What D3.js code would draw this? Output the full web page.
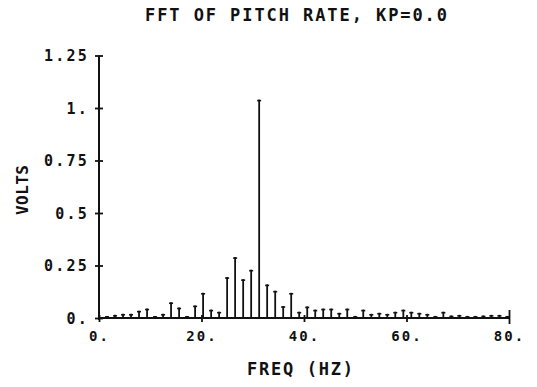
<!DOCTYPE html>
<html>
<head>
<meta charset="utf-8">
<script src="https://cdn.jsdelivr.net/npm/d3@7"></script>
<style>
    html, body { margin: 0; padding: 0; background: #fff; }
    svg { display: block; }
    text { font-family: "DejaVu Sans Mono", monospace; font-weight: bold; fill: #111; }
</style>
</head>
<body>
<div id="chart"></div>
<script>
    'use strict';

    // FFT bins (Hz) and amplitude (volts)
    var freqs = [1.56, 3.13, 4.69, 6.25, 7.81, 9.38, 10.94, 12.5, 14.06, 15.63,
        17.19, 18.75, 20.31, 21.88, 23.44, 25, 26.56, 28.13, 29.69, 31.25,
        32.81, 34.38, 35.94, 37.5, 39.06, 40.63, 42.19, 43.75, 45.31, 46.88,
        48.44, 50, 51.56, 53.13, 54.69, 56.25, 57.81, 59.38, 60.94, 62.5,
        64.06, 65.63, 67.19, 68.75, 70.31, 71.88, 73.44, 75, 76.56, 78.13, 79.69];
    var volts = [0.01, 0.015, 0.02, 0.02, 0.035, 0.045, 0.01, 0.02, 0.075, 0.05,
        0.01, 0.06, 0.12, 0.04, 0.03, 0.195, 0.29, 0.185, 0.23, 1.04,
        0.16, 0.13, 0.057, 0.12, 0.03, 0.055, 0.04, 0.045, 0.045, 0.025,
        0.045, 0.01, 0.04, 0.02, 0.025, 0.02, 0.03, 0.04, 0.03, 0.025,
        0.02, 0.01, 0.03, 0.012, 0.015, 0.01, 0.01, 0.012, 0.015, 0.015, 0.01];

    var xTicks = [0, 20, 40, 60, 80];
    var xTickLabels = ["0.", "20.", "40.", "60.", "80."];
    var yTicks = [0, 0.25, 0.5, 0.75, 1, 1.25];
    var yTickLabels = ["0.", "0.25", "0.5", "0.75", "1.", "1.25"];

    var titleText = "FFT OF PITCH RATE, KP=0.0";
    var xTitle = "FREQ (HZ)";
    var yTitle = "VOLTS";

    var W = 537, H = 387;
    var x = d3.scaleLinear().domain([0, 80]).range([99, 509]);
    var y = d3.scaleLinear().domain([0, 1.25]).range([318, 55.5]);

    var svg = d3.select("#chart").append("svg")
        .attr("width", W)
        .attr("height", H)
        .style("background-color", "#fff");

    var stems = freqs.map(function (f, i) {
        return { f: f, v: volts[i] };
    });

    // stems
    svg.selectAll("line.stem")
        .data(stems)
        .enter()
        .append("line")
        .attr("class", "stem")
        .attr("x1", function (d) { return x(d.f); })
        .attr("x2", function (d) { return x(d.f); })
        .attr("y1", y(0))
        .attr("y2", function (d) { return y(d.v); })
        .attr("stroke", "#111")
        .attr("stroke-width", 1.8);

    // little caps on stem tops
    svg.selectAll("line.cap")
        .data(stems)
        .enter()
        .append("line")
        .attr("class", "cap")
        .attr("x1", function (d) { return x(d.f) - 2; })
        .attr("x2", function (d) { return x(d.f) + 2; })
        .attr("y1", function (d) { return y(d.v) + 1; })
        .attr("y2", function (d) { return y(d.v) + 1; })
        .attr("stroke", "#111")
        .attr("stroke-width", 1.6);

    // y axis
    var yAxis = d3.axisLeft(y)
        .tickValues(yTicks)
        .tickSize(0)
        .tickPadding(10)
        .tickFormat(function (d, i) { return yTickLabels[i]; });

    var gy = svg.append("g")
        .attr("transform", "translate(" + x(0) + ",0)")
        .call(yAxis);
    gy.select(".domain").remove();
    gy.append("line")
        .attr("x1", 0).attr("x2", 0)
        .attr("y1", y(1.25)).attr("y2", y(0) + 2)
        .attr("stroke", "#111").attr("stroke-width", 2);
    gy.selectAll(".tick").append("line")
        .attr("x1", -4).attr("x2", 4)
        .attr("stroke", "#111").attr("stroke-width", 1.8);
    gy.selectAll(".tick text")
        .style("font-size", "15px")
        .style("letter-spacing", "2.2px")
        .attr("dy", "0.36em");

    // x axis
    var xAxis = d3.axisBottom(x)
        .tickValues(xTicks)
        .tickSize(0)
        .tickPadding(13)
        .tickFormat(function (d, i) { return xTickLabels[i]; });

    var gx = svg.append("g")
        .attr("transform", "translate(0," + y(0) + ")")
        .call(xAxis);
    gx.select(".domain").remove();
    gx.append("line")
        .attr("x1", x(0)).attr("x2", x(80))
        .attr("y1", 0).attr("y2", 0)
        .attr("stroke", "#111").attr("stroke-width", 1.8);
    gx.selectAll(".tick").append("line")
        .attr("y1", function (d) { return d === 80 ? -8 : -3; })
        .attr("y2", function (d) { return d === 80 ? 6 : 4; })
        .attr("stroke", "#111").attr("stroke-width", 1.8);
    gx.selectAll(".tick text")
        .style("font-size", "14px")
        .style("letter-spacing", "2px")
        .attr("dy", "0.71em");

    // titles
    svg.append("text")
        .attr("x", 296)
        .attr("y", 21)
        .attr("text-anchor", "middle")
        .style("font-size", "17px")
        .attr("textLength", 302)
        .attr("lengthAdjust", "spacing")
        .text(titleText);

    svg.append("text")
        .attr("x", 300)
        .attr("y", 375)
        .attr("text-anchor", "middle")
        .style("font-size", "17px")
        .attr("textLength", 106)
        .attr("lengthAdjust", "spacing")
        .text(xTitle);

    svg.append("text")
        .attr("transform", "translate(28,190) rotate(-90)")
        .attr("text-anchor", "middle")
        .style("font-size", "16px")
        .attr("textLength", 50)
        .attr("lengthAdjust", "spacing")
        .text(yTitle);
</script>
</body>
</html>
